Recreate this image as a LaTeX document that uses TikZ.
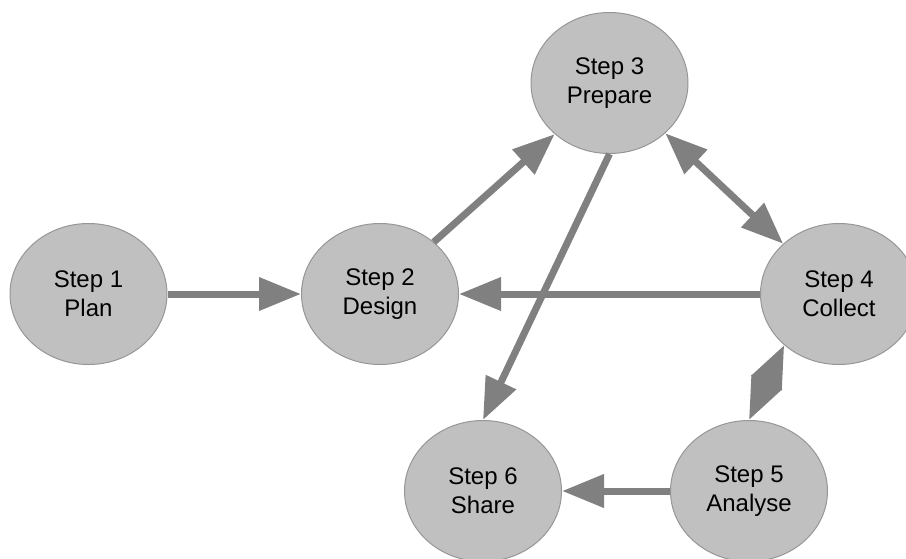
\documentclass[tikz,border=0pt]{standalone}
\usepackage{fontspec}
\setmainfont{Liberation Sans}
\usetikzlibrary{shapes.geometric,arrows.meta}
\definecolor{stepfill}{RGB}{192,192,192}
\definecolor{stepline}{RGB}{150,150,150}
\definecolor{flow}{RGB}{128,128,128}
\tikzset{
  flowtip/.tip={Triangle[length=42pt,width=32pt]},
  stepnode/.style={ellipse,fill=stepfill,draw=stepline,line width=1pt,
    minimum width=157pt,minimum height=141pt,inner sep=0pt,align=center,
    text=black,font=\fontsize{24}{29}\selectfont},
  flowarrow/.style={draw=flow,line width=7pt,-flowtip},
  twowayarrow/.style={draw=flow,line width=7pt,flowtip-flowtip},
}
\begin{document}
\begin{tikzpicture}[x=1pt,y=-1pt]
  \useasboundingbox (0,0) rectangle (906,558);

  % process steps
  \node[stepnode] (s1) at (88.5,294) {Step 1\\Plan};
  \node[stepnode] (s2) at (380,294) {Step 2\\Design};
  \node[stepnode] (s3) at (609.5,83) {Step 3\\Prepare};
  \node[stepnode] (s4) at (839,294) {Step 4\\Collect};
  \node[stepnode] (s5) at (749,491) {Step 5\\Analyse};
  \node[stepnode] (s6) at (483,491) {Step 6\\Share};

  % flow between steps
  \draw[flowarrow] (s1) -- (s2);
  \draw[flowarrow] (s2.44) -- (s3.223);
  \draw[flowarrow] (s3.south) -- (s6.north);
  \draw[flowarrow] (s4) -- (s2);
  \draw[twowayarrow] (s3.318) -- (s4.138);
  \draw[twowayarrow] (s4.223) -- (s5.north);
  \draw[flowarrow] (s5) -- (s6);
\end{tikzpicture}
\end{document}
